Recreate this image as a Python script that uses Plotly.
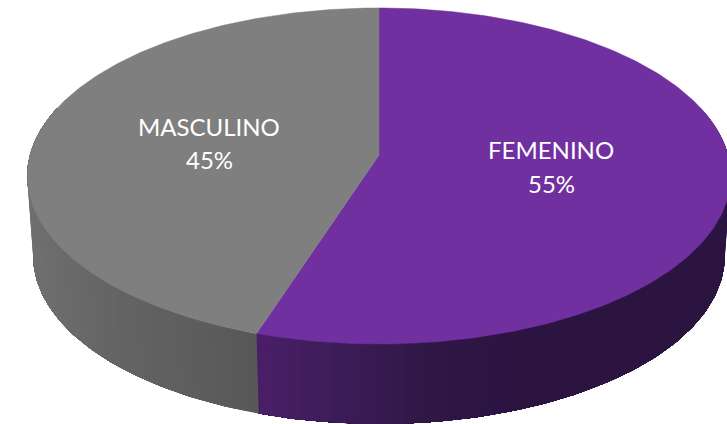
import numpy as np
import plotly.graph_objects as go

categories = ["FEMENINO", "MASCULINO"]
values = [55, 45]
top_colors = ["#7030A0", "#7F7F7F"]
# side-wall colour ramps, sampled left to right on screen (x pixel, rgb)
wall_ramps = [
    ([258, 330, 430, 520, 727], [(74, 31, 104), (62, 29, 90), (48, 24, 70), (43, 20, 64), (43, 20, 64)]),
    ([27, 120, 258], [(112, 112, 112), (100, 100, 100), (88, 88, 88)]),
]
label_pos = [(551, 149, 183), (209, 126, 159)]

W, H = 727, 424
K = 0.125
CX = 379
TOP = dict(cy=155, rx=349, ry=165.4)
BOT = dict(cy=235.4, rx=343, ry=165)


def project(theta, disc):
    u, v = np.sin(theta), -np.cos(theta)
    d = 1 - K * v
    return CX + disc["rx"] * u / d, disc["cy"] + disc["ry"] * v / d


def wall_color(x, ramp):
    xs, cols = ramp
    return "rgb(%d,%d,%d)" % tuple(np.interp(x, xs, [c[i] for c in cols]) for i in range(3))


fractions = np.array(values) / sum(values)
edges = np.concatenate([[0], np.cumsum(fractions)]) * 2 * np.pi

fig = go.Figure()

# side walls: each band is painted from its start to the slice end, so the
# next band covers it and no seams can show between neighbours
for i, cat in enumerate(categories):
    a0, a1 = edges[i], edges[i + 1]
    ts = np.linspace(a0, a1, 181)
    visible = ts[np.cos(ts) < 0.3]
    xt, yt = project(visible, TOP)
    xb, yb = project(visible, BOT)
    order = range(0, len(visible) - 1, 2) if i == 1 else range(len(visible) - 2, -1, -2)
    starts = list(range(0, len(visible) - 1, 2))
    for s in starts:
        col = wall_color((xt[s] + xt[min(s + 2, len(visible) - 1)]) / 2, wall_ramps[i])
        fig.add_trace(go.Scatter(
            x=np.concatenate([xt[s:], xb[s:][::-1], xt[s:s + 1]]),
            y=np.concatenate([yt[s:], yb[s:][::-1], yt[s:s + 1]]),
            mode="lines", fill="toself", fillcolor=col,
            line=dict(width=0), hoverinfo="skip", showlegend=False))

# top faces
for i, cat in enumerate(categories):
    ts = np.linspace(edges[i], edges[i + 1], 240)
    xs, ys = project(ts, TOP)
    px = np.concatenate([[CX], xs, [CX]])
    py = np.concatenate([[TOP["cy"]], ys, [TOP["cy"]]])
    fig.add_trace(go.Scatter(
        x=px, y=py, mode="lines", fill="toself", fillcolor=top_colors[i],
        line=dict(color=top_colors[i], width=0.5), name=cat,
        hoverinfo="skip", showlegend=False))

# labels
for i, cat in enumerate(categories):
    lx, y1, y2 = label_pos[i]
    for text, yy in ((cat, y1), (f"{values[i]}%", y2)):
        fig.add_annotation(x=lx, y=yy, text=text, showarrow=False, xanchor="center", yanchor="middle",
                           font=dict(family="Lato, Carlito, 'Open Sans', sans-serif", size=24, color="white"))

fig.update_layout(
    width=W, height=H, margin=dict(l=0, r=0, t=0, b=0),
    paper_bgcolor="white", plot_bgcolor="white", showlegend=False,
    xaxis=dict(range=[0, W], visible=False, fixedrange=True),
    yaxis=dict(range=[H, 0], visible=False, fixedrange=True),
)
fig.write_html("out.html", config={"displayModeBar": False},
               post_script="document.body.style.margin='0';document.body.style.overflow='hidden';")
